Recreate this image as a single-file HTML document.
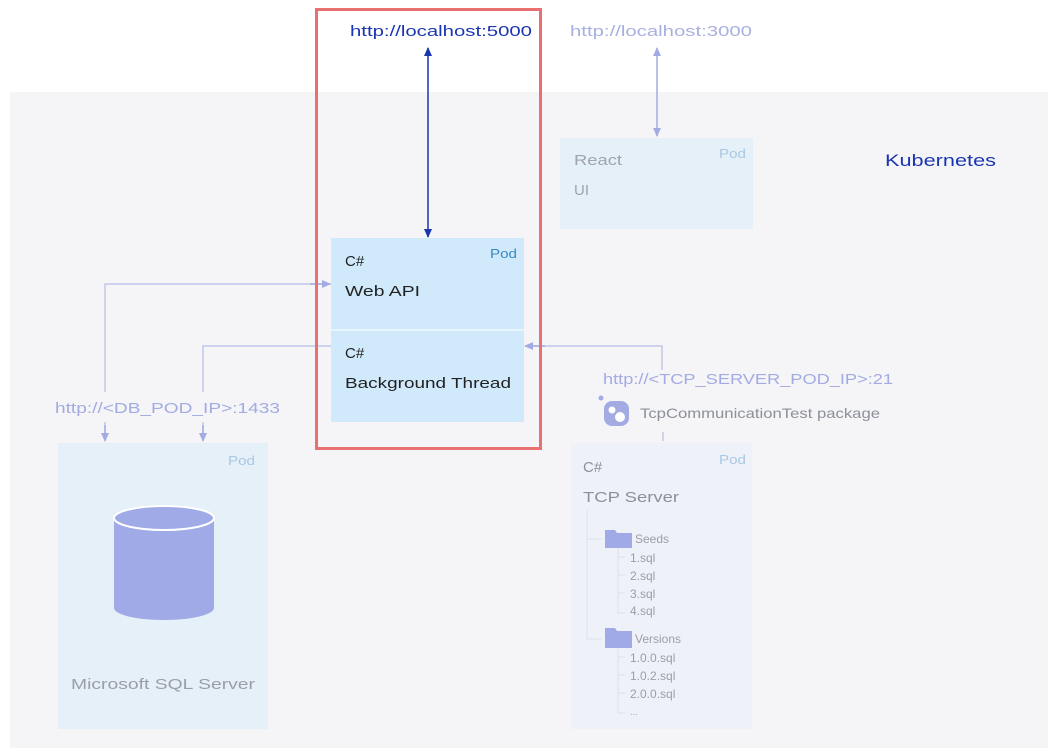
<!DOCTYPE html>
<html><head><meta charset="utf-8"><style>
html,body{margin:0;padding:0;background:#fff;}
svg{display:block;}
text{font-family:"Liberation Sans",sans-serif;}
</style></head><body>
<svg width="1061" height="756" viewBox="0 0 1061 756" xmlns="http://www.w3.org/2000/svg">
<defs>
<marker id="ad" markerWidth="10" markerHeight="10" refX="8" refY="5" orient="auto-start-reverse" markerUnits="userSpaceOnUse"><path d="M0,1 L9,5 L0,9 Z" fill="#1a35b0"/></marker>
<marker id="al" markerWidth="10" markerHeight="10" refX="8" refY="5" orient="auto-start-reverse" markerUnits="userSpaceOnUse"><path d="M0,1 L9,5 L0,9 Z" fill="#a3abe3"/></marker>
</defs>
<rect x="10" y="92" width="1038" height="656" fill="#f5f5f8"/>
<!-- top labels -->
<text x="350" y="36" font-size="15" fill="#1a35b0" textLength="182" lengthAdjust="spacingAndGlyphs">http://localhost:5000</text>
<text x="570" y="36" font-size="15" fill="#a8b0e0" textLength="182" lengthAdjust="spacingAndGlyphs">http://localhost:3000</text>
<line x1="428" y1="48" x2="428" y2="237" stroke="#1a35b0" stroke-width="1.5" marker-start="url(#ad)" marker-end="url(#ad)"/>
<line x1="657" y1="48" x2="657" y2="136" stroke="#a3abe3" stroke-width="1.5" marker-start="url(#al)" marker-end="url(#al)"/>
<!-- Kubernetes -->
<text x="885" y="166" font-size="17" fill="#1a35b0" textLength="111" lengthAdjust="spacingAndGlyphs">Kubernetes</text>
<!-- React pod -->
<rect x="560" y="138" width="193" height="91" fill="#e6f0f8"/>
<text x="574" y="165" font-size="15" fill="#a0a4ac" textLength="48" lengthAdjust="spacingAndGlyphs">React</text>
<text x="574" y="195" font-size="15" fill="#a0a4ac">UI</text>
<text x="719" y="158" font-size="13" fill="#a8c8e4" textLength="27" lengthAdjust="spacingAndGlyphs">Pod</text>
<!-- connectors left -->
<polyline points="331,284 105,284 105,438" fill="none" stroke="#c2c6ea" stroke-width="1.5"/>
<polyline points="331,346 203,346 203,438" fill="none" stroke="#c2c6ea" stroke-width="1.5"/>
<line x1="310" y1="284" x2="330" y2="284" stroke="#a3abe3" stroke-width="1.5" marker-end="url(#al)"/>
<line x1="105" y1="425" x2="105" y2="441" stroke="#a3abe3" stroke-width="1.5" marker-end="url(#al)"/>
<line x1="203" y1="425" x2="203" y2="441" stroke="#a3abe3" stroke-width="1.5" marker-end="url(#al)"/>
<rect x="50" y="392" width="236" height="30" fill="#f5f5f8"/>
<text x="55" y="413" font-size="15" fill="#a3abe3" textLength="225" lengthAdjust="spacingAndGlyphs">http://&lt;DB_POD_IP&gt;:1433</text>
<!-- Web API pod -->
<rect x="331" y="238" width="193" height="184" fill="#d0eafc"/>
<line x1="331" y1="330" x2="524" y2="330" stroke="#ffffff" stroke-width="1"/>
<text x="345" y="266" font-size="15" fill="#222">C#</text>
<text x="345" y="296" font-size="15" fill="#222" textLength="75" lengthAdjust="spacingAndGlyphs">Web API</text>
<text x="345" y="358" font-size="15" fill="#222">C#</text>
<text x="345" y="388" font-size="15" fill="#222" textLength="166" lengthAdjust="spacingAndGlyphs">Background Thread</text>
<text x="490" y="258" font-size="13" fill="#3a8ac0" textLength="27" lengthAdjust="spacingAndGlyphs">Pod</text>
<!-- right connector -->
<polyline points="662,370 662,346 526,346" fill="none" stroke="#c2c6ea" stroke-width="1.5"/>
<line x1="545" y1="346" x2="525" y2="346" stroke="#a3abe3" stroke-width="1.5" marker-end="url(#al)"/>
<text x="603" y="384" font-size="15" fill="#a3abe3" textLength="290" lengthAdjust="spacingAndGlyphs">http://&lt;TCP_SERVER_POD_IP&gt;:21</text>
<circle cx="601" cy="398" r="2.5" fill="#a3abe3"/>
<rect x="604" y="401" width="25" height="25" rx="8" fill="#a3abe3"/>
<circle cx="612" cy="410" r="3.5" fill="#fff"/>
<circle cx="620" cy="417" r="5" fill="#fff"/>
<text x="640" y="418" font-size="14" fill="#8c9098" textLength="240" lengthAdjust="spacingAndGlyphs">TcpCommunicationTest package</text>
<line x1="663" y1="432" x2="663" y2="441" stroke="#c2c6ea" stroke-width="1.5"/>
<!-- red box -->
<rect x="316.5" y="9.5" width="224" height="439" fill="none" stroke="#e87070" stroke-width="3"/>
<!-- SQL pod -->
<rect x="58" y="443" width="210" height="286" fill="#e6f0f8"/>
<text x="228" y="465" font-size="13" fill="#a8c8e4" textLength="27" lengthAdjust="spacingAndGlyphs">Pod</text>
<path d="M114,518 L114,608 A50,12 0 0 0 214,608 L214,518 Z" fill="#a0aae6"/>
<ellipse cx="164" cy="518" rx="50" ry="12" fill="#a0aae6" stroke="#fff" stroke-width="2"/>
<text x="71" y="689" font-size="15" fill="#9a9ea6" textLength="184" lengthAdjust="spacingAndGlyphs">Microsoft SQL Server</text>
<!-- TCP pod -->
<rect x="571" y="443" width="181" height="286" fill="#eef2f8"/>
<text x="719" y="464" font-size="13" fill="#a8c8e4" textLength="27" lengthAdjust="spacingAndGlyphs">Pod</text>
<text x="583" y="472" font-size="15" fill="#8c9098">C#</text>
<text x="583" y="502" font-size="15" fill="#8c9098" textLength="96" lengthAdjust="spacingAndGlyphs">TCP Server</text>
<g stroke="#dde0ea" stroke-width="1" fill="none">
<polyline points="587,510 587,639 602,639"/>
<line x1="587" y1="539" x2="602" y2="539"/>
<polyline points="618,547 618,613 625,613"/>
<line x1="618" y1="557" x2="625" y2="557"/><line x1="618" y1="575" x2="625" y2="575"/><line x1="618" y1="593" x2="625" y2="593"/>
<polyline points="618,647 618,713 625,713"/>
<line x1="618" y1="657" x2="625" y2="657"/><line x1="618" y1="675" x2="625" y2="675"/><line x1="618" y1="693" x2="625" y2="693"/>
</g>
<path d="M605,530 L615,530 L617,533 L632,533 L632,548 L605,548 Z" fill="#a0aae6"/>
<path d="M605,628 L615,628 L617,631 L632,631 L632,648 L605,648 Z" fill="#a0aae6"/>
<g font-size="12" fill="#9a9ea6">
<text x="635" y="543">Seeds</text>
<text x="630" y="562">1.sql</text>
<text x="630" y="580">2.sql</text>
<text x="630" y="598">3.sql</text>
<text x="630" y="615">4.sql</text>
<text x="635" y="643">Versions</text>
<text x="630" y="662">1.0.0.sql</text>
<text x="630" y="680">1.0.2.sql</text>
<text x="630" y="698">2.0.0.sql</text>
<text x="630" y="715" font-size="9">...</text>
</g>
</svg>
</body></html>
